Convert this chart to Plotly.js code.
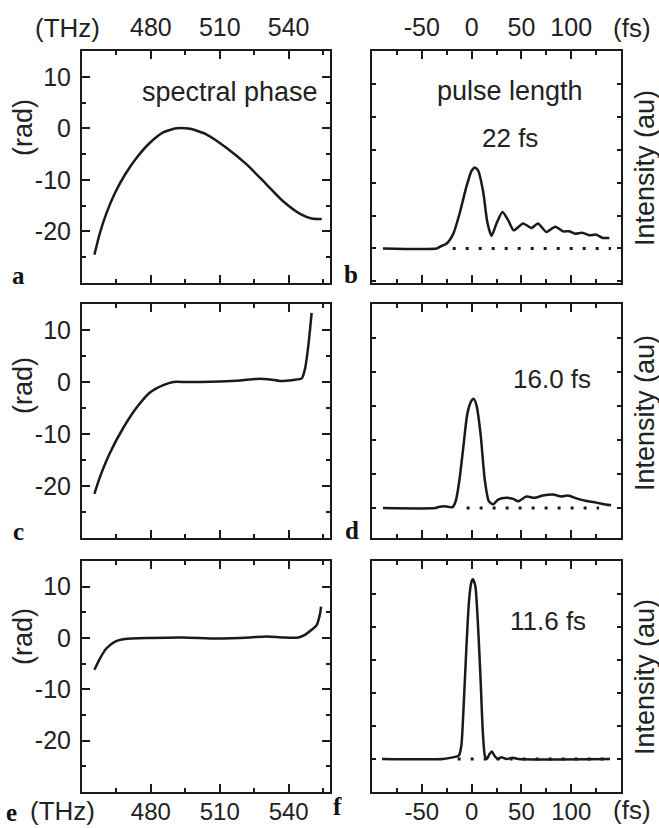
<!DOCTYPE html>
<html>
<head>
<meta charset="utf-8">
<script src="https://cdn.plot.ly/plotly-3.0.1.min.js"></script>
<style>html,body{margin:0;padding:0;background:#fff;}#chart{width:659px;height:828px;}</style>
</head>
<body>
<div id="chart"></div>
<script>
// ---- data ----
// spectral phase (rad) vs frequency (THz)
const phaseA_x = [455.4, 457.8, 460.7, 464.4, 468.7, 473.8, 479.6, 485.4, 491.2, 497.0, 504.3, 513.0, 521.7, 530.4, 537.7, 545.0, 550.0, 554.4];
const phaseA_y = [-24.5, -20.3, -16.4, -12.5, -9.0, -5.7, -2.8, -0.8, 0.0, -0.1, -1.2, -3.8, -7.0, -10.9, -14.2, -16.6, -17.5, -17.6];

const phaseC_x = [455.4, 457.8, 462.1, 468.0, 473.8, 479.6, 485.4, 489.8, 495.0, 501.4, 510.1, 518.8, 526.1, 531.9, 536.2, 542.0, 545.7, 547.1, 548.6, 550.0];
const phaseC_y = [-21.5, -18.3, -13.7, -8.8, -4.9, -2.0, -0.6, 0.0, 0.0, 0.0, 0.1, 0.3, 0.6, 0.5, 0.2, 0.4, 0.7, 2.5, 7.1, 13.3];

const phaseE_x = [455.4, 457.8, 460.7, 464.4, 468.7, 479.6, 494.1, 508.7, 523.2, 530.4, 537.7, 544.2, 547.1, 550.0, 552.2, 553.7, 554.1];
const phaseE_y = [-6.2, -4.0, -2.0, -0.7, -0.2, 0.0, 0.1, -0.1, 0.1, 0.3, 0.1, 0.1, 0.6, 1.6, 2.5, 4.8, 6.1];

// pulse intensity (au) vs time (fs)
const pulseB_t = [-89, -35, -32, -25, -18.3, -11.7, -5, 0, 3.3, 6.7, 11.7, 15.7, 20, 25, 31, 36.7, 42.3, 51.7, 60, 66.7, 75, 84, 91.7, 98, 104, 111, 118, 125, 131.7, 138.3];
const pulseB_i = [0, 0, 0.05, 0.15, 0.45, 1.1, 1.9, 2.36, 2.46, 2.36, 1.71, 0.81, 0.38, 0.76, 1.11, 0.86, 0.55, 0.76, 0.62, 0.76, 0.5, 0.66, 0.52, 0.52, 0.45, 0.48, 0.4, 0.42, 0.32, 0.32];

const pulseD_t = [-89, -36.7, -33.3, -26.7, -19, -15.7, -12.3, -8.3, -4.3, 0, 2.3, 5, 9, 13.3, 17.3, 21.7, 26.7, 35, 41.7, 46.7, 55, 63.3, 71.7, 81.7, 90, 96.7, 106.7, 116.7, 125, 131.7, 140];
const pulseD_i = [0, 0, 0.03, 0.05, 0.03, 0.23, 0.81, 1.79, 2.77, 3.16, 3.21, 3.01, 2.18, 0.81, 0.2, 0.11, 0.25, 0.3, 0.27, 0.2, 0.34, 0.3, 0.37, 0.4, 0.34, 0.37, 0.27, 0.2, 0.16, 0.12, 0.08];

const pulseF_t = [-90, -28.8, -18.8, -12.8, -10.3, -8, -5.3, -2.7, -0.3, 1.3, 3.7, 6.3, 9, 11.3, 13.3, 15.3, 18, 20.3, 23, 26.3, 29.7, 35, 41, 47, 139];
const pulseF_i = [0, 0, 0.05, 0.1, 0.4, 1.6, 3.33, 4.75, 5.35, 5.45, 5.25, 4.14, 2.42, 0.8, 0.1, 0, 0.15, 0.23, 0.1, 0, 0.05, 0, 0.04, 0, 0];

// dotted zero lines (start, end in fs)
const zeroB_t = [-19, 140];
const zeroD_t = [-5, 128];
const zeroF_t = [-14, 140];
const zeroVal = [0, 0];

// tick labels
const freqTicks = [480, 510, 540];
const timeTicks = [-50, 0, 50, 100];
const phaseTicks = [-20, -10, 0, 10];

// ---- layout helpers ----
const W = 659, H = 828;
const fx = p => p / W;
const fy = p => 1 - p / H;
const FONT = 'Liberation Sans, Arial, Helvetica, sans-serif';
const INK = '#1a1a1a';

const curve = {color: INK, width: 2.5, shape: 'spline', smoothing: 0.6};
const dotted = {color: INK, width: 3, dash: '3px,10px'};

const traces = [
  {x: phaseA_x, y: phaseA_y, xaxis: 'x', yaxis: 'y', mode: 'lines', line: curve},
  {x: zeroB_t, y: zeroVal, xaxis: 'x2', yaxis: 'y2', mode: 'lines', line: dotted},
  {x: pulseB_t, y: pulseB_i, xaxis: 'x2', yaxis: 'y2', mode: 'lines', line: curve},
  {x: phaseC_x, y: phaseC_y, xaxis: 'x3', yaxis: 'y3', mode: 'lines', line: curve},
  {x: zeroD_t, y: zeroVal, xaxis: 'x4', yaxis: 'y4', mode: 'lines', line: dotted},
  {x: pulseD_t, y: pulseD_i, xaxis: 'x4', yaxis: 'y4', mode: 'lines', line: curve},
  {x: phaseE_x, y: phaseE_y, xaxis: 'x5', yaxis: 'y5', mode: 'lines', line: curve},
  {x: zeroF_t, y: zeroVal, xaxis: 'x6', yaxis: 'y6', mode: 'lines', line: dotted},
  {x: pulseF_t, y: pulseF_i, xaxis: 'x6', yaxis: 'y6', mode: 'lines', line: curve}
];

const baseAxis = {
  showline: true, linewidth: 2, linecolor: INK, mirror: 'ticks',
  ticks: 'inside', ticklen: 8, tickwidth: 2, tickcolor: INK,
  showgrid: false, zeroline: false, fixedrange: true,
  tickfont: {family: FONT, size: 25, color: '#222'}
};

function freqAxis(anchor, dom, side, labels, standoff) {
  return Object.assign({}, baseAxis, {
    anchor: anchor, domain: dom, range: [450, 558], side: side,
    tickmode: 'array', tickvals: freqTicks, ticktext: freqTicks.map(String),
    showticklabels: labels, ticklabelstandoff: standoff,
    minor: {ticks: 'inside', ticklen: 4, tickwidth: 2, tickcolor: INK, dtick: 15, tick0: 450, showgrid: false}
  });
}
function timeAxis(anchor, dom, side, labels, standoff) {
  return Object.assign({}, baseAxis, {
    anchor: anchor, domain: dom, range: [-100, 150], side: side,
    tickmode: 'array', tickvals: timeTicks, ticktext: timeTicks.map(String),
    showticklabels: labels, ticklabelstandoff: standoff,
    minor: {ticks: 'inside', ticklen: 4, tickwidth: 2, tickcolor: INK, dtick: 25, tick0: -100, showgrid: false}
  });
}
function phaseAxis(anchor, dom) {
  return Object.assign({}, baseAxis, {
    anchor: anchor, domain: dom, range: [-30, 15],
    tickmode: 'array', tickvals: phaseTicks, ticktext: phaseTicks.map(String),
    ticklabelstandoff: 4,
    minor: {ticks: 'inside', ticklen: 4, tickwidth: 2, tickcolor: INK, dtick: 5, tick0: -30, showgrid: false}
  });
}
function intAxis(anchor, dom, lo) {
  return Object.assign({}, baseAxis, {
    anchor: anchor, domain: dom, range: [lo, 6], dtick: 1, tick0: 0, ticklen: 4,
    showticklabels: false
  });
}

const xL = [fx(82), fx(330)], xR = [fx(372), fx(621)];
const r1 = [fy(283), fy(51)], r2 = [fy(538), fy(304)], r3 = [fy(792), fy(561)];

function ann(text, x, y, size, opts) {
  return Object.assign({
    text: text, xref: 'paper', yref: 'paper', x: fx(x), y: fy(y),
    xanchor: 'center', yanchor: 'middle', showarrow: false,
    font: {family: FONT, size: size, color: '#222'}
  }, opts || {});
}
function letter(t, x, y) {
  return ann('<b>' + t + '</b>', x, y, 25, {font: {family: 'Liberation Serif, Times New Roman, serif', size: 25, color: '#111'}});
}

const annotations = [
  ann('(THz)', 67, 28, 26), ann('(THz)', 62, 811, 26),
  ann('(fs)', 632, 28, 26), ann('(fs)', 632, 810, 26),
  ann('spectral phase', 230, 92, 27),
  ann('pulse length', 510, 91, 27),
  ann('22 fs', 510, 138, 26),
  ann('16.0 fs', 552, 379, 26),
  ann('11.6 fs', 548, 621, 26),
  ann('(rad)', 23, 128, 27, {textangle: -90}),
  ann('(rad)', 23, 386, 27, {textangle: -90}),
  ann('(rad)', 23, 637, 27, {textangle: -90}),
  ann('Intensity (au)', 645, 168, 27, {textangle: -90}),
  ann('Intensity (au)', 645, 413, 27, {textangle: -90}),
  ann('Intensity (au)', 645, 677, 27, {textangle: -90}),
  letter('a', 18, 276), letter('b', 351, 275),
  letter('c', 18, 531), letter('d', 352, 530),
  letter('e', 11, 812), letter('f', 337, 806)
];

const layout = {
  width: W, height: H, margin: {l: 0, r: 0, t: 0, b: 0},
  paper_bgcolor: '#fff', plot_bgcolor: '#fff', showlegend: false,
  xaxis: freqAxis('y', xL, 'top', true, 3),
  yaxis: phaseAxis('x', r1),
  xaxis2: timeAxis('y2', xR, 'top', true, 3),
  yaxis2: intAxis('x2', r1, -1.05),
  xaxis3: freqAxis('y3', xL, 'bottom', false, 0),
  yaxis3: phaseAxis('x3', r2),
  xaxis4: timeAxis('y4', xR, 'bottom', false, 0),
  yaxis4: intAxis('x4', r2, -0.88),
  xaxis5: Object.assign(freqAxis('y5', xL, 'bottom', true, -3), {tickfont: {family: FONT, size: 24, color: '#222'}}),
  yaxis5: phaseAxis('x5', r3),
  xaxis6: Object.assign(timeAxis('y6', xR, 'bottom', true, -3), {tickfont: {family: FONT, size: 24, color: '#222'}}),
  yaxis6: intAxis('x6', r3, -1),
  annotations: annotations
};

Plotly.newPlot('chart', traces, layout, {staticPlot: true, displayModeBar: false});
</script>
</body>
</html>
